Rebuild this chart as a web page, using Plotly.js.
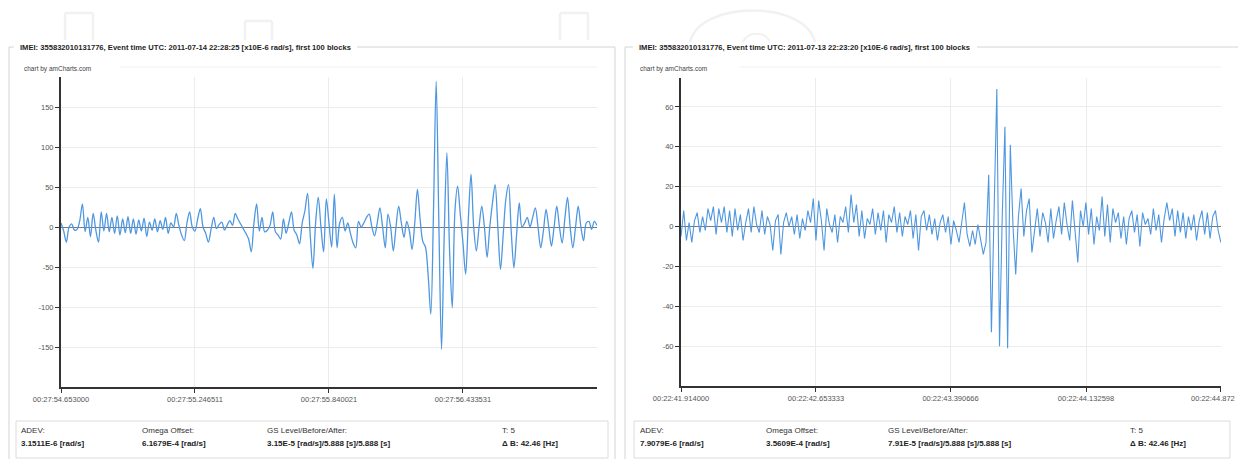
<!DOCTYPE html>
<html>
<head>
<meta charset="utf-8">
<script src="https://cdn.plot.ly/plotly-3.0.1.min.js"></script>
<style>
  html, body { margin: 0; padding: 0; background: #fff; overflow: hidden; }
  #chart { width: 1238px; height: 459px; }
</style>
</head>
<body>
<div id="chart"></div>
<script>
// ---------- Event 1 (2011-07-14) ----------
const leftTitle = 'IMEI: 355832010131776, Event time UTC: 2011-07-14 22:28:25 [x10E-6 rad/s], first 100 blocks';
const leftTickLabels = ['00:27:54.653000', '00:27:55.246511', '00:27:55.840021', '00:27:56.433531'];
const leftYTicks = [-150, -100, -50, 0, 50, 100, 150];
const leftValues = [
  5, -5, -19, 0, 4, -4, -3, 8, 29, -6,
  12, -12, 17, -4, -19, 19, -5, 17, -6, 12,
  -8, 14, -10, 10, -7, 13, -8, 10, -9, 9,
  -5, 11, -12, 6, -4, 10, -6, 8, -3, 12,
  -8, 5, 0, 17, 2, -10, -17, 5, 19, 0,
  -5, 10, 23, 0, -8, -19, -3, 12, -2, 3,
  6, -4, 2, 8, 2, 17, 10, 4, -2, -8,
  -15, -31, 5, 29, -5, 12, -6, -4, 2, 19,
  -6, -10, -15, 10, -8, 5, 19, -4, -10, -21,
  5, 20, 42, -10, -52, 5, 37, 0, -31, 35,
  5, -25, 41, -26, 5, 12, -5, 5, -8, -20,
  -26, 7, 0, 5, 12, 16, 0, -11, 5, 24,
  0, -26, 16, 0, -30, 0, 26, 5, -13, 7,
  -5, -28, 5, 47, 10, -18, -25, -60, -109, 20,
  182, 5, -153, -10, 93, -30, -101, 20, 51, 16,
  -20, -59, 10, 66, 0, -30, 0, 26, 0, -38,
  0, 30, 53, 0, -53, -10, 35, 53, -5, -51,
  -10, 30, 0, 5, 12, 0, 12, 24, 0, -26,
  -5, 22, 0, -24, 0, 26, 0, -20, 10, 37,
  0, -26, 0, 26, 0, -17, 5, 7, -3, 7,
  2
];
const leftStatLabels = ['ADEV:', 'Omega Offset:', 'GS Level/Before/After:', 'T: 5'];
const leftStatValues = ['3.1511E-6 [rad/s]', '6.1679E-4 [rad/s]', '3.15E-5 [rad/s]/5.888 [s]/5.888 [s]', '\u0394 B: 42.46 [Hz]'];

// ---------- Event 2 (2011-07-13) ----------
const rightTitle = 'IMEI: 355832010131776, Event time UTC: 2011-07-13 22:23:20 [x10E-6 rad/s], first 100 blocks';
const rightTickLabels = ['00:22:41.914000', '00:22:42.653333', '00:22:43.390666', '00:22:44.132598', '00:22:44.872'];
const rightYTicks = [-60, -40, -20, 0, 20, 40, 60];
const rightValues = [
  -5, 8, -7, 2, -8, 3, 7, -3, 5, -2,
  9, 3, 10, -4, 9, 2, 10, -3, 8, -5,
  9, -2, 6, -7, 2, 9, -3, 10, 1, -3,
  8, -4, 5, 1, -12, 3, 6, -14, 2, 7,
  0, 5, -4, 6, -6, 4, -2, 8, 2, 14,
  -7, 13, 3, -12, 9, 1, -3, 6, -8, 5,
  2, 10, -3, 16, 2, 11, -5, 8, -6, 4,
  1, 9, -4, 7, -2, 8, -8, 6, 2, 10,
  -3, 7, -5, 5, 1, 8, -6, 6, -12, 5,
  8, -2, 6, -4, 4, -7, 2, 6, -3, 5,
  -9, 3, -2, -8, 2, 12, -4, -10, -2, -9,
  1, -6, -14, -8, 26, -53, 10, 69, -60, 5,
  50, -61, 41, 0, -24, 5, 19, -5, 8, 14,
  -13, -3, 9, -5, 7, 2, -8, 9, -6, 3,
  10, -4, 12, 1, -7, 13, -3, -18, 8, 0,
  12, -4, 9, -9, 5, -2, 15, -5, 11, -8,
  9, 2, 7, -6, 5, -9, 4, 8, -3, 6,
  -10, 7, 1, 4, -4, 9, -2, 6, -8, 4,
  12, 3, 9, -5, 8, -3, 7, -6, 5, -2,
  6, -7, 3, 8, -4, 7, -6, 5, 8, -2,
  -8
];
const rightStatLabels = ['ADEV:', 'Omega Offset:', 'GS Level/Before/After:', 'T: 5'];
const rightStatValues = ['7.9079E-6 [rad/s]', '3.5609E-4 [rad/s]', '7.91E-5 [rad/s]/5.888 [s]/5.888 [s]', '\u0394 B: 42.46 [Hz]'];

const SAMPLES_PER_LABEL = 50;

// ---------- helpers ----------
const W = 1238, H = 459;
const px = x => x / W;
const py = y => 1 - y / H;

function toSeconds(label) {
  const [h, m, s] = label.split(':');
  return (+h) * 3600 + (+m) * 60 + parseFloat(s);
}
function sampleTimes(labels, values) {
  const t0 = toSeconds(labels[0]);
  const step = (toSeconds(labels[1]) - t0) / SAMPLES_PER_LABEL;
  return values.map((_, i) => t0 + i * step);
}

const FONT = '"Liberation Sans", Arial, sans-serif';
const lineBlue = '#4f97e0';
const tickFont = { family: FONT, size: 7.5, color: '#555' };

const leftX = sampleTimes(leftTickLabels, leftValues);
const rightX = sampleTimes(rightTickLabels, rightValues);

const traces = [
  {
    x: leftX, y: leftValues, xaxis: 'x', yaxis: 'y', type: 'scatter', mode: 'lines',
    line: { color: lineBlue, width: 1.3, shape: 'spline', smoothing: 0.9 },
    hoverinfo: 'skip'
  },
  {
    x: rightX, y: rightValues, xaxis: 'x2', yaxis: 'y2', type: 'scatter', mode: 'lines',
    line: { color: lineBlue, width: 1.1 },
    hoverinfo: 'skip'
  }
];

// the label at the far right edge is set flush right against the page edge
function xAxis(labels, xs, domain, anchor, lastFlush) {
  const tv = labels.map(toSeconds);
  return {
    domain: domain, anchor: anchor,
    range: [xs[0], Math.max(xs[xs.length - 1], tv[tv.length - 1]) + 1e-4],
    tickvals: tv,
    ticktext: labels.map((l, k) => (lastFlush && k === labels.length - 1) ? '' : l),
    showgrid: true, gridcolor: '#ececec', gridwidth: 1,
    showline: true, linecolor: '#333', linewidth: 2,
    ticks: 'outside', ticklen: 4, tickcolor: '#333', tickwidth: 1,
    tickfont: tickFont,
    zeroline: false, fixedrange: true
  };
}
function yAxis(ticks, range, domain, anchor) {
  return {
    domain: domain, anchor: anchor, range: range,
    tickvals: ticks, ticktext: ticks.map(String),
    showgrid: true, gridcolor: '#ececec', gridwidth: 1,
    showline: true, linecolor: '#333', linewidth: 2,
    ticks: 'outside', ticklen: 4, tickcolor: '#333', tickwidth: 1,
    tickfont: tickFont,
    zeroline: true, zerolinecolor: '#7a7a7a', zerolinewidth: 1,
    fixedrange: true
  };
}

const layout = {
  width: W, height: H,
  margin: { l: 0, r: 0, t: 0, b: 0 },
  paper_bgcolor: '#fff', plot_bgcolor: '#fff',
  showlegend: false,
  xaxis: xAxis(leftTickLabels, leftX, [px(61), px(597)], 'y', false),
  yaxis: yAxis(leftYTicks, [-200, 187.5], [py(387), py(77)], 'x'),
  xaxis2: xAxis(rightTickLabels, rightX, [px(681), px(1221)], 'y2', true),
  yaxis2: yAxis(rightYTicks, [-80, 74.5], [py(386), py(78)], 'x2'),
  shapes: [],
  annotations: []
};

const pline = (x0, y0, x1, y1, color, width) => ({
  type: 'line', xref: 'paper', yref: 'paper',
  x0: px(x0), y0: py(y0), x1: px(x1), y1: py(y1),
  line: { color: color, width: width }
});
const prect = (x0, y0, x1, y1, color, width) => ({
  type: 'rect', xref: 'paper', yref: 'paper',
  x0: px(x0), y0: py(y0), x1: px(x1), y1: py(y1),
  line: { color: color, width: width }, fillcolor: 'rgba(0,0,0,0)'
});
const text = (x, y, str, size, color, bold, anchor) => ({
  xref: 'paper', yref: 'paper', x: px(x), y: py(y),
  xanchor: anchor || 'left', yanchor: 'middle', showarrow: false,
  text: bold ? '<b>' + str + '</b>' : str,
  font: { family: FONT, size: size, color: color }
});

layout.annotations.push(Object.assign(
  text(1237, 398, rightTickLabels[rightTickLabels.length - 1], 7.5, '#555', false, 'right'),
  { xshift: 0 }
));

// faint outline ornaments along the top edge
const ornament = '#f1f1f1';
[[65, 93, 13], [245, 272, 21], [560, 588, 13]].forEach(([a, b, top]) => {
  layout.shapes.push(pline(a, 40, a, top, ornament, 2.5));
  layout.shapes.push(pline(a, top, b, top, ornament, 2.5));
  layout.shapes.push(pline(b, top, b, 40, ornament, 2.5));
});
layout.shapes.push({
  type: 'path', xref: 'paper', yref: 'paper',
  path: `M ${px(690)} ${py(42)} C ${px(700)} ${py(0)}, ${px(805)} ${py(0)}, ${px(815)} ${py(42)}`,
  line: { color: ornament, width: 2.5 }
});
layout.shapes.push({
  type: 'path', xref: 'paper', yref: 'paper',
  path: `M ${px(743)} ${py(42)} C ${px(748)} ${py(31)}, ${px(765)} ${py(31)}, ${px(770)} ${py(42)}`,
  line: { color: ornament, width: 2 }
});

// panel frames (fieldset style, with the title breaking the top edge)
function panel(left, right, titleStart, titleEnd, title, statLabels, statValues, cols, footL, footR, chartTopLeft, chartTopRight) {
  const border = '#d4d4d4';
  layout.shapes.push(pline(left, 47, titleStart - 4, 47, border, 1));
  layout.shapes.push(pline(titleEnd + 5, 47, right, 47, border, 1));
  layout.shapes.push(pline(left, 47, left, 459, border, 1));
  layout.shapes.push(pline(right, 47, right, 459, border, 1));
  layout.annotations.push(text(titleStart, 47, title, 7.6, '#1e1e1e', true));
  layout.annotations.push(text(left + 13, 69, 'chart by amCharts.com', 6.5, '#444', false));
  layout.shapes.push(pline(chartTopLeft, 67, chartTopRight, 67, '#efefef', 1));
  // statistics footer
  layout.shapes.push(prect(footL, 421, footR, 458, '#dcdcdc', 1));
  statLabels.forEach((s, k) => {
    layout.annotations.push(text(cols[k], 430, s, 8, '#333', false));
    layout.annotations.push(text(cols[k], 443, statValues[k], 8, '#222', true));
  });
}
panel(9, 615, 18, 352, leftTitle, leftStatLabels, leftStatValues, [19, 140, 265, 500], 16, 608, 120, 597);
panel(625, 1245, 637, 972, rightTitle, rightStatLabels, rightStatValues, [638, 764, 886, 1128], 634, 1230, 740, 1221);

Plotly.newPlot('chart', traces, layout, { displayModeBar: false, staticPlot: true });
</script>
</body>
</html>
